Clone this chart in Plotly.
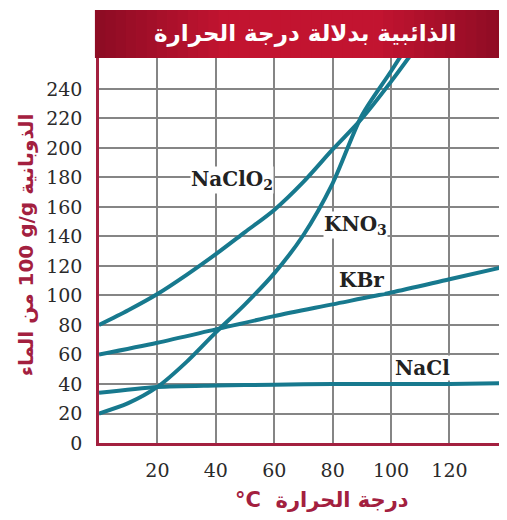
import plotly.graph_objects as go

# ---- data ----
temp = [0, 10, 20, 30, 40, 50, 60, 70, 80, 90, 100, 110]
naclo2 = [80, 90, 101, 114, 128, 143, 158, 177, 199, 220, 245, 272]
kno3 = [20, 27, 38, 55, 75, 94, 115, 141, 176, 222, 252, 283]

temp_b = [0, 20, 40, 60, 80, 100, 120, 140]
kbr = [60, 68, 77, 86, 94, 102, 111, 120]
nacl = [34, 38, 39, 39.5, 40, 40, 40, 40.5]

x_ticks = [20, 40, 60, 80, 100, 120]
y_ticks = [0, 20, 40, 60, 80, 100, 120, 140, 160, 180, 200, 220, 240]

title_text = "الذائبية بدلالة درجة الحرارة"
# logical order arranged so the rendered (visual) order matches the reference
y_title = "من الماء" + " \u200e100 g/g " + "الذوبانية"
x_title = "°C  " + "درجة الحرارة"

teal = "#17798e"
maroon = "#a3203f"
grid = "#858585"

fig = go.Figure()
for xs, ys in [(temp, naclo2), (temp, kno3), (temp_b, kbr), (temp_b, nacl)]:
    fig.add_trace(go.Scatter(x=xs, y=ys, mode="lines",
                             line=dict(color=teal, width=4, shape="spline", smoothing=0.8),
                             hoverinfo="skip", showlegend=False))

label_font = dict(family="DejaVu Serif", size=20, color="#222222")
labels = [
    ("<b>NaClO<sub>2</sub></b>", 45.5, 178),
    ("<b>KNO<sub>3</sub></b>", 87.7, 148),
    ("<b>KBr</b>", 90, 110.5),
    ("<b>NaCl</b>", 110.6, 51),
]
for txt, lx, ly in labels:
    fig.add_annotation(x=lx, y=ly, text=txt, showarrow=False, font=label_font,
                       bgcolor="white", borderpad=0)

# title bar with a horizontal gradient (dark edges, bright centre)
n = 40
x0p, x1p = -0.01, 1.0
for i in range(n):
    t = (i + 0.5) / n
    k = 1 - abs(t - 0.5) * 2  # 0 at edges, 1 at centre
    k = min(1.0, k * 1.6)
    r = int(0x8c + (0xc2 - 0x8c) * k)
    g = int(0x0c + (0x14 - 0x0c) * k)
    b = int(0x24 + (0x30 - 0x24) * k)
    fig.add_shape(type="rect", xref="paper", yref="paper",
                  x0=x0p + (x1p - x0p) * i / n, x1=x0p + (x1p - x0p) * (i + 1) / n + 0.002,
                  y0=1.0, y1=1.1247,
                  fillcolor=f"rgb({r},{g},{b})", line=dict(width=0), layer="above")
fig.add_annotation(xref="paper", yref="paper", x=0.505, y=1.064, text="<b>" + title_text + "</b>",
                   showarrow=False, font=dict(family="DejaVu Sans", size=23, color="white"),
                   xanchor="center", yanchor="middle")

# axis titles as annotations
fig.add_annotation(xref="paper", yref="paper", x=-0.18, y=0.515, text="<b>" + y_title + "</b>",
                   textangle=-90, showarrow=False,
                   font=dict(family="DejaVu Sans", size=20, color=maroon),
                   xanchor="center", yanchor="middle")
fig.add_annotation(xref="paper", yref="paper", x=0.547, y=-0.148, text="<b>" + x_title + "</b>",
                   showarrow=False,
                   font=dict(family="DejaVu Sans", size=21, color=maroon),
                   xanchor="center", yanchor="middle")

fig.update_xaxes(range=[0, 139.7], tickvals=x_ticks, ticktext=[str(v) for v in x_ticks],
                 showgrid=True, gridcolor=grid, gridwidth=1.5, zeroline=False,
                 showline=True, linecolor=maroon, linewidth=2.5, ticks="",
                 ticklabelstandoff=8,
                 tickfont=dict(family="DejaVu Serif", size=19, color="#2a2a2a"))
fig.update_yaxes(range=[0, 261], tickvals=y_ticks, ticktext=[str(v) for v in y_ticks],
                 showgrid=True, gridcolor=grid, gridwidth=1.5, zeroline=False,
                 showline=True, linecolor=maroon, linewidth=2.5, ticks="",
                 ticklabelstandoff=10,
                 tickfont=dict(family="DejaVu Serif", size=19, color="#2a2a2a"))

# the page body adds an 8px offset, so the figure is sized to end at the window edge
fig.update_layout(width=499, height=512,
                  margin=dict(l=91, r=0, t=50, b=77, autoexpand=False),
                  paper_bgcolor="white", plot_bgcolor="white")

fig.write_html("out.html")
